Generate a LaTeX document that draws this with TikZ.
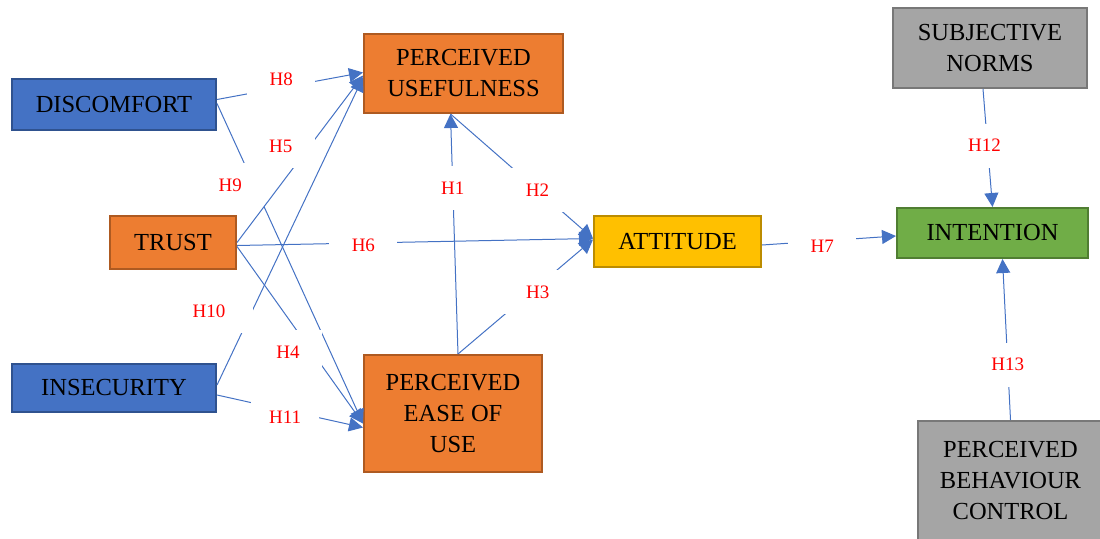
\documentclass[tikz,border=0pt]{standalone}
\usepackage{fontspec}
\setmainfont{Liberation Serif}
\usetikzlibrary{arrows.meta}
\definecolor{ublue}{HTML}{4472C4}
\definecolor{ublueline}{HTML}{2F528F}
\definecolor{uorange}{HTML}{ED7D31}
\definecolor{uorangeline}{HTML}{AE5A21}
\definecolor{uyellow}{HTML}{FFC000}
\definecolor{uyellowline}{HTML}{BC8C00}
\definecolor{ugreen}{HTML}{70AD47}
\definecolor{ugreenline}{HTML}{507E32}
\definecolor{ugray}{HTML}{A5A5A5}
\definecolor{ugrayline}{HTML}{787878}
\begin{document}
\begin{tikzpicture}[x=1pt, y=-1pt,
    construct/.style={rectangle, draw, line width=2pt, align=center, inner sep=0pt, font=\fontsize{24.5}{31}\selectfont},
    blueb/.style={construct, fill=ublue, draw=ublueline},
    orangeb/.style={construct, fill=uorange, draw=uorangeline},
    yellowb/.style={construct, fill=uyellow, draw=uyellowline},
    greenb/.style={construct, fill=ugreen, draw=ugreenline},
    grayb/.style={construct, fill=ugray, draw=ugrayline},
    link/.style={-{Triangle[length=14pt,width=14pt]}, draw=ublue, line width=1pt},
    hyp/.style={fill=white, text=red, minimum width=68pt, minimum height=44pt, inner sep=0pt, font=\fontsize{19}{22}\selectfont}
  ]
  \useasboundingbox (0,0) rectangle (1100,538);

  \node[blueb, minimum width=204pt, minimum height=51pt] (disc) at (114,104.5) {DISCOMFORT};
  \node[orangeb, minimum width=126pt, minimum height=53pt] (trust) at (173,242.5) {TRUST};
  \node[blueb, minimum width=204pt, minimum height=48pt] (insec) at (114,388) {INSECURITY};
  \node[orangeb, minimum width=199pt, minimum height=79pt] (pu) at (463.5,73.5) {PERCEIVED\\USEFULNESS};
  \node[orangeb, minimum width=178pt, minimum height=117pt] (peou) at (453,413.5) {PERCEIVED\\EASE OF\\USE};
  \node[yellowb, minimum width=167pt, minimum height=51pt] (att) at (677.5,241.5) {ATTITUDE};
  \node[greenb, minimum width=191pt, minimum height=50pt] (int) at (992.5,233) {INTENTION};
  \node[grayb, minimum width=194pt, minimum height=80pt] (subj) at (990,48) {SUBJECTIVE\\NORMS};
  \node[grayb, minimum width=185pt, minimum height=119pt] (pbc) at (1010.5,480.5) {PERCEIVED\\BEHAVIOUR\\CONTROL};

  % External factors
  \draw[link] ([yshift=5pt]disc.east) -- ([yshift=1pt]pu.west) node[hyp, pos=0.44, yshift=8pt] {H8};
  \draw[link] ([yshift=1pt]disc.east) -- ([yshift=-10pt]peou.west) node[hyp, pos=0.255, xshift=-24pt] {H9};
  \draw[link] (trust.east) -- ([yshift=-2pt]pu.west) node[hyp, pos=0.578, xshift=-29pt] {H5};
  \draw[link] ([yshift=3pt]insec.east) -- ([yshift=-4pt]pu.west) node[hyp, pos=0.24, xshift=-43pt, minimum width=88pt] {H10};
  \draw[link] ([yshift=-3pt]trust.east) -- ([yshift=3pt]att.west) node[hyp, pos=0.355, yshift=-2pt] {H6};
  \draw[link] ([yshift=-4pt]trust.east) -- ([yshift=-10pt]peou.west) node[hyp, pos=0.596, xshift=-24pt] {H4};
  \draw[link] ([yshift=-7pt]insec.east) -- ([yshift=-14pt]peou.west) node[hyp, pos=0.466, yshift=-7pt] {H11};

  % TAM core
  \draw[link] ([xshift=5pt]peou.north) -- ([xshift=-13pt]pu.south) node[hyp, pos=0.69] {H1};
  \draw[link] ([xshift=-13pt]pu.south) -- ([yshift=3pt]att.west) node[hyp, pos=0.61] {H2};
  \draw[link] ([xshift=5pt]peou.north) -- ([yshift=2pt]att.west) node[hyp, pos=0.59, yshift=-6pt] {H3};

  % TPB side
  \draw[link] ([yshift=-3.5pt]att.east) -- ([yshift=-3pt]int.west) node[hyp, pos=0.45, yshift=-5pt] {H7};
  \draw[link] ([xshift=-7pt]subj.south) -- (int.north) node[hyp, pos=0.48, xshift=-3pt] {H12};
  \draw[link] (pbc.north) -- ([xshift=10pt]int.south) node[hyp, pos=0.344] {H13};
\end{tikzpicture}
\end{document}
